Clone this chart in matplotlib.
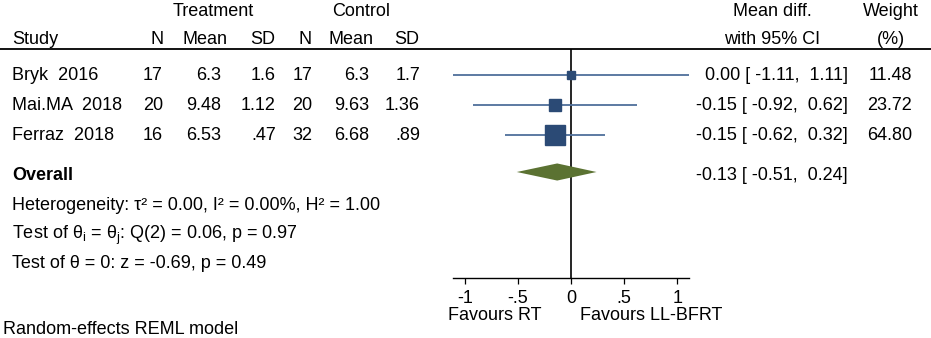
import matplotlib
matplotlib.use('Agg')
import matplotlib.pyplot as plt
import matplotlib.transforms as mtransforms
import numpy as np

# ---------------- data ----------------
studies = ['Bryk  2016', 'Mai.MA  2018', 'Ferraz  2018']
n_treat = ['17', '20', '16']
mean_treat = ['6.3', '9.48', '6.53']
sd_treat = ['1.6', '1.12', '.47']
n_ctrl = ['17', '20', '32']
mean_ctrl = ['6.3', '9.63', '6.68']
sd_ctrl = ['1.7', '1.36', '.89']
mean_diff = [0.00, -0.15, -0.15]
ci_low = [-1.11, -0.92, -0.62]
ci_high = [1.11, 0.62, 0.32]
weights = [11.48, 23.72, 64.80]
overall_est = -0.13
overall_low = -0.51
overall_high = 0.24
xticks = [-1, -0.5, 0, 0.5, 1]
xticklabels = ['-1', '-.5', '0', '.5', '1']
stats_lines = [
    'Heterogeneity: τ² = 0.00, I² = 0.00%, H² = 1.00',
    r'Test of θ$_\mathregular{i}$ = θ$_\mathregular{j}$: Q(2) = 0.06, p = 0.97',
    'Test of θ = 0: z = -0.69, p = 0.49',
]
model_note = 'Random-effects REML model'
favours_left = 'Favours RT'
favours_right = 'Favours LL-BFRT'

# ---------------- style ----------------
plt.rcParams['font.family'] = ['Liberation Sans', 'DejaVu Sans']
plt.rcParams['mathtext.fontset'] = 'custom'
plt.rcParams['mathtext.rm'] = 'Liberation Sans'
FS = 13
SQ_COLOR = '#2b4a75'
LINE_COLOR = '#4f6f9b'
DIA_COLOR = '#5b7232'

W, H = 931, 338
fig = plt.figure(figsize=(W / 100, H / 100), dpi=100)

# forest axes: spans from header rule (px 49) to x-axis (px 278)
top_px, bot_px = 49, 278
ax = fig.add_axes([453 / W, 1 - bot_px / H, 236 / W, (bot_px - top_px) / H])
row0_px, row_h = 75, 30.0
def prow(px):
    return (px - row0_px) / row_h
ax.set_xlim(-1.11, 1.11)
ax.set_ylim(prow(bot_px), prow(top_px))

for s in ['top', 'left', 'right']:
    ax.spines[s].set_visible(False)
ax.spines['bottom'].set_linewidth(1.0)
ax.set_yticks([])
ax.set_xticks(xticks)
ax.set_xticklabels(xticklabels, fontsize=FS)
ax.tick_params(axis='x', direction='out', length=4, width=0.9, pad=4.5)

ax.axvline(0, color='black', lw=1.2, zorder=1)

rows = np.arange(len(studies))
wmax = max(weights)
ax.hlines(rows, ci_low, ci_high, color=LINE_COLOR, lw=1.3, zorder=2)
for r, md, w in zip(rows, mean_diff, weights):
    ax.plot(md, r, marker='s', ms=14.4 * np.sqrt(w / wmax), color=SQ_COLOR,
            mec=SQ_COLOR, zorder=3, clip_on=False)

ov_row = prow(172)
dh = 0.285
ax.fill([overall_low, overall_est, overall_high, overall_est],
        [ov_row, ov_row - dh, ov_row, ov_row + dh], color=DIA_COLOR, zorder=3, lw=0)

T = mtransforms.blended_transform_factory(fig.transFigure, ax.transData)
def txt(px, y, s, ha='left', **kw):
    ax.text(px / W, y, s, transform=T, ha=ha, va='center', fontsize=FS,
            clip_on=False, **kw)

# header rule across the whole figure
ax.plot([0, 1], [prow(top_px)] * 2, transform=T, color='black', lw=1.3, clip_on=False)

y1, y2 = prow(11), prow(39)
txt(213, y1, 'Treatment', ha='center')
txt(361, y1, 'Control', ha='center')
txt(772, y1, 'Mean diff.', ha='center')
txt(891, y1, 'Weight', ha='center')
txt(12, y2, 'Study')
txt(164, y2, 'N', ha='right')
txt(228, y2, 'Mean', ha='right')
txt(275, y2, 'SD', ha='right')
txt(312, y2, 'N', ha='right')
txt(374, y2, 'Mean', ha='right')
txt(419, y2, 'SD', ha='right')
txt(772, y2, 'with 95% CI', ha='center')
txt(891, y2, '(%)', ha='center')

for r in rows:
    y = prow(76 + 30 * r)
    txt(12, y, studies[r])
    txt(163, y, n_treat[r], ha='right')
    txt(221, y, mean_treat[r], ha='right')
    txt(276, y, sd_treat[r], ha='right')
    txt(312, y, n_ctrl[r], ha='right')
    txt(369, y, mean_ctrl[r], ha='right')
    txt(420, y, sd_ctrl[r], ha='right')
    txt(848, y, f'{mean_diff[r]:.2f} [ {ci_low[r]:.2f},  {ci_high[r]:.2f}]', ha='right')
    txt(912, y, f'{weights[r]:.2f}', ha='right')

yo = prow(175)
txt(12, yo, 'Overall', fontweight='bold')
txt(848, yo, f'{overall_est:.2f} [ {overall_low:.2f},  {overall_high:.2f}]', ha='right')

for px, s in zip([205, 235, 264], stats_lines):
    txt(12, prow(px), s)
txt(3, prow(329), model_note)

txt(495, prow(316), favours_left, ha='center')
txt(651, prow(316), favours_right, ha='center')

fig.savefig('out.png', dpi=100)
